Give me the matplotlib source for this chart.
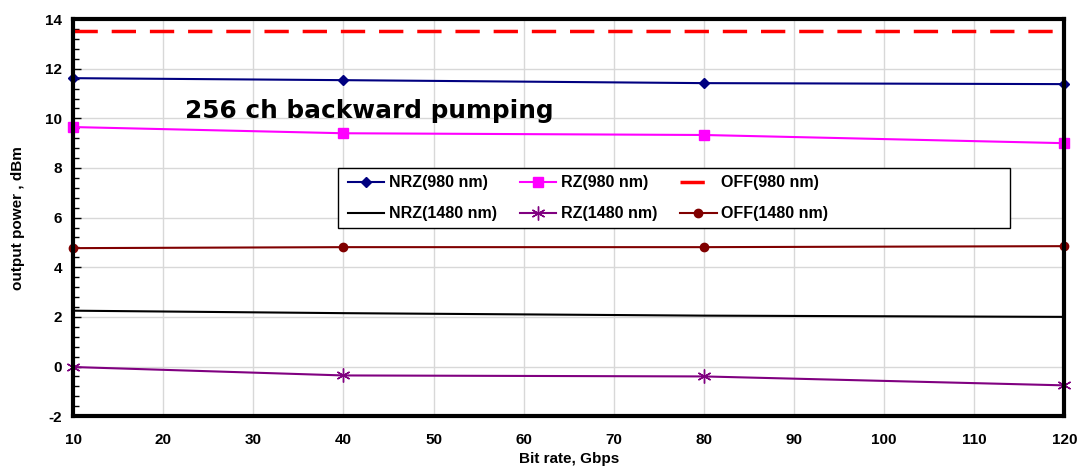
import matplotlib
matplotlib.use("Agg")
import matplotlib.pyplot as plt
from matplotlib.ticker import MultipleLocator
from matplotlib.patches import Rectangle

plt.rcParams['font.family'] = ['Liberation Sans', 'DejaVu Sans']
plt.rcParams['font.weight'] = 'bold'
plt.rcParams['axes.unicode_minus'] = False

bit_rate = [10, 40, 80, 120]
nrz_980 = [11.62, 11.54, 11.42, 11.38]
rz_980 = [9.65, 9.40, 9.33, 9.00]
off_980 = [13.52, 13.52, 13.52, 13.52]
nrz_1480 = [2.25, 2.15, 2.05, 2.00]
rz_1480 = [-0.02, -0.36, -0.40, -0.76]
off_1480 = [4.77, 4.81, 4.81, 4.85]

fig = plt.figure(figsize=(10.8, 4.66), dpi=100)
ax = fig.add_axes([0.0676, 0.107, 0.918, 0.852])

l_nrz980, = ax.plot(bit_rate, nrz_980, color='#000080', lw=1.5, marker='D', ms=5,
                    label='NRZ(980 nm)', clip_on=False, zorder=3)
l_rz980, = ax.plot(bit_rate, rz_980, color='#FF00FF', lw=1.5, marker='s', ms=7,
                   label='RZ(980 nm)', clip_on=False, zorder=3)
l_off980, = ax.plot(bit_rate, off_980, color='#FF0000', lw=2.5, dashes=(7, 4),
                    label='OFF(980 nm)', zorder=3)
l_nrz1480, = ax.plot(bit_rate, nrz_1480, color='black', lw=1.5,
                     label='NRZ(1480 nm)', zorder=3)
l_rz1480, = ax.plot(bit_rate, rz_1480, color='#800080', lw=1.5, marker=(6, 2, 0),
                    ms=10, mew=1, label='RZ(1480 nm)', clip_on=False, zorder=3)
l_off1480, = ax.plot(bit_rate, off_1480, color='#800000', lw=1.5, marker='o', ms=6,
                     label='OFF(1480 nm)', clip_on=False, zorder=3)

ax.set_xlim(10, 120)
ax.set_ylim(-2, 14)
ax.xaxis.set_major_locator(MultipleLocator(10))
ax.yaxis.set_major_locator(MultipleLocator(2))
ax.yaxis.set_minor_locator(MultipleLocator(0.4))
ax.grid(True, which='major', color='#d8d8d8', lw=1)
ax.set_axisbelow(True)

for s in ax.spines.values():
    s.set_linewidth(3)
    s.set_zorder(4)
ax.tick_params(axis='both', which='major', direction='in', length=6, width=1,
               labelsize=11, pad=8)
ax.tick_params(axis='y', which='minor', direction='in', length=4, width=1)
ax.tick_params(axis='x', which='major', length=0, pad=12)
for lab in ax.get_xticklabels() + ax.get_yticklabels():
    lab.set_fontweight('bold')

ax.set_xlabel('Bit rate, Gbps', fontsize=11, fontweight='bold', labelpad=4)
ax.set_ylabel('output power , dBm', fontsize=11, fontweight='bold', labelpad=14)

ax.text(22.4, 10.0, '256 ch backward pumping', fontsize=17.8, fontweight='bold',
        family='DejaVu Sans', va='baseline')

# legend frame, drawn wider than the entries themselves
ax.add_patch(Rectangle((0.267, 0.474), 0.678, 0.151, transform=ax.transAxes,
                       facecolor='white', edgecolor='black', lw=1, zorder=5))

handles = [l_nrz980, l_nrz1480, l_rz980, l_rz1480, l_off980, l_off1480]
leg = ax.legend(handles=handles, ncol=3, loc='upper left',
                bbox_to_anchor=(0.277, 0.607), fontsize=11.5, frameon=False,
                handlelength=2.3, handletextpad=0.3, columnspacing=1.4,
                labelspacing=1.0, borderpad=0, borderaxespad=0)
leg.set_zorder(6)
for t in leg.get_texts():
    t.set_fontweight('bold')

fig.savefig('out.png', dpi=100)
